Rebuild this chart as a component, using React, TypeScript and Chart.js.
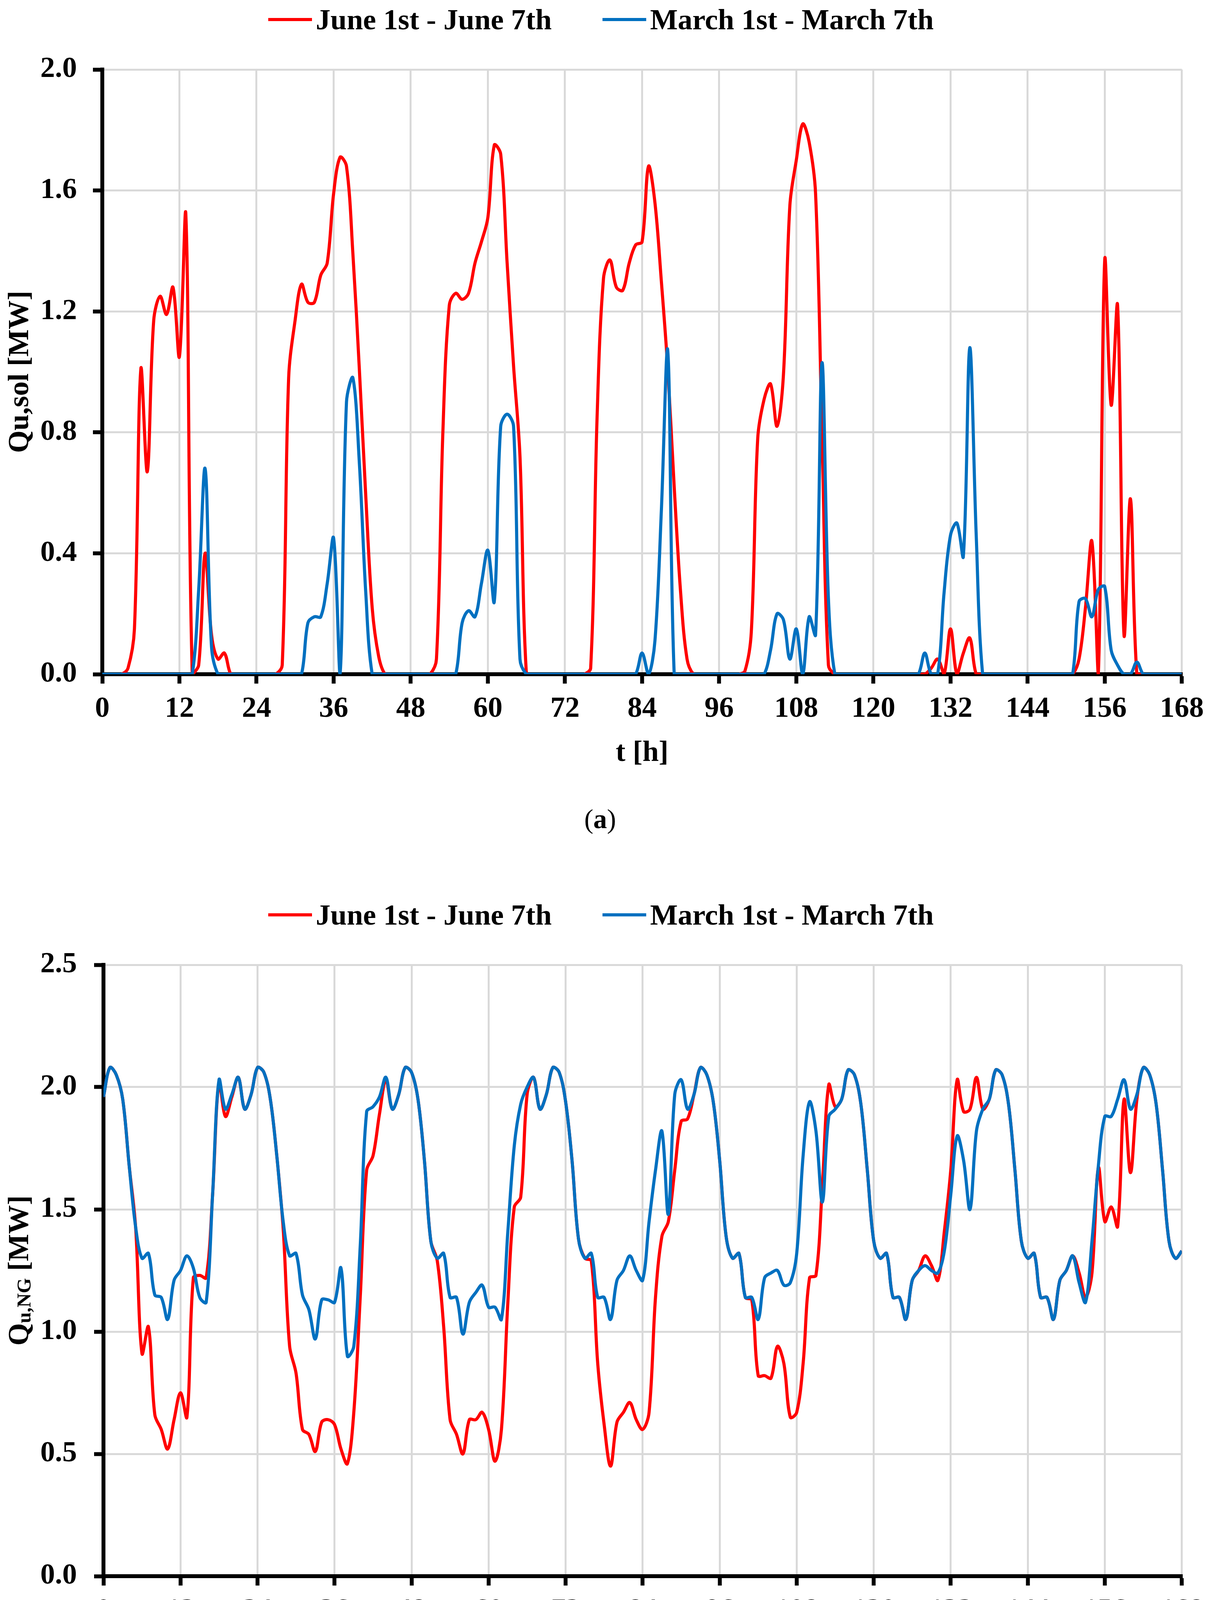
import { useEffect, useRef } from "react";
import { Chart, registerables } from "chart.js";

Chart.register(...registerables);

const SERIF = "'Liberation Serif', 'Times New Roman', serif";

// hourly values, t = 0 ... 168 h (12 values per row)
const juneSolar = [
  0, 0, 0, 0, 0.02, 0.15, 1.01, 0.67, 1.17, 1.25, 1.19, 1.28,
  1.05, 1.52, 0, 0.03, 0.4, 0.13, 0.05, 0.07, 0, 0, 0, 0,
  0, 0, 0, 0, 0.03, 0.98, 1.17, 1.29, 1.23, 1.23, 1.32, 1.36,
  1.59, 1.71, 1.68, 1.39, 1.01, 0.59, 0.22, 0.06, 0, 0, 0, 0,
  0, 0, 0, 0, 0.05, 0.8, 1.22, 1.26, 1.24, 1.26, 1.36, 1.43,
  1.51, 1.75, 1.72, 1.36, 1.02, 0.72, 0, 0, 0, 0, 0, 0,
  0, 0, 0, 0, 0.02, 0.85, 1.31, 1.37, 1.28, 1.27, 1.36, 1.42,
  1.43, 1.68, 1.56, 1.3, 1.01, 0.62, 0.27, 0.05, 0, 0, 0, 0,
  0, 0, 0, 0, 0.01, 0.14, 0.78, 0.91, 0.96, 0.82, 0.99, 1.55,
  1.7, 1.82, 1.76, 1.59, 0.8, 0.03, 0, 0, 0, 0, 0, 0,
  0, 0, 0, 0, 0, 0, 0, 0, 0, 0.02, 0.05, 0,
  0.15, 0, 0.07, 0.12, 0, 0, 0, 0, 0, 0, 0, 0,
  0, 0, 0, 0, 0, 0, 0, 0, 0.05, 0.22, 0.44, 0,
  1.37, 0.89, 1.22, 0.13, 0.58, 0, 0, 0, 0, 0, 0, 0,
  0,
];

const marchSolar = [
  0, 0, 0, 0, 0, 0, 0, 0, 0, 0, 0, 0,
  0, 0, 0, 0.28, 0.68, 0.09, 0, 0, 0, 0, 0, 0,
  0, 0, 0, 0, 0, 0, 0, 0, 0.17, 0.19, 0.19, 0.3,
  0.45, 0, 0.9, 0.98, 0.7, 0.27, 0, 0, 0, 0, 0, 0,
  0, 0, 0, 0, 0, 0, 0, 0, 0.17, 0.21, 0.19, 0.3,
  0.41, 0.24, 0.82, 0.86, 0.82, 0.05, 0, 0, 0, 0, 0, 0,
  0, 0, 0, 0, 0, 0, 0, 0, 0, 0, 0, 0,
  0.07, 0, 0.11, 0.54, 1.07, 0, 0, 0, 0, 0, 0, 0,
  0, 0, 0, 0, 0, 0, 0, 0, 0.08, 0.2, 0.18, 0.05,
  0.15, 0, 0.19, 0.13, 1.03, 0.25, 0, 0, 0, 0, 0, 0,
  0, 0, 0, 0, 0, 0, 0, 0, 0.07, 0, 0, 0.27,
  0.46, 0.5, 0.39, 1.08, 0.46, 0, 0, 0, 0, 0, 0, 0,
  0, 0, 0, 0, 0, 0, 0, 0, 0.24, 0.25, 0.19, 0.28,
  0.29, 0.08, 0.03, 0, 0, 0.04, 0, 0, 0, 0, 0, 0,
  0,
];

const juneGas = [
  1.96, 2.08, 2.05, 1.95, 1.68, 1.43, 0.91, 1.02, 0.66, 0.6, 0.52, 0.64,
  0.75, 0.65, 1.22, 1.23, 1.22, 1.56, 2.02, 1.88, 1.96, 2.04, 1.91, 1.97,
  2.08, 2.06, 1.95, 1.72, 1.42, 0.94, 0.83, 0.6, 0.58, 0.51, 0.63, 0.64,
  0.62, 0.52, 0.46, 0.67, 1.14, 1.66, 1.72, 1.89, 2.03, 1.91, 1.97, 2.08,
  2.06, 1.95, 1.7, 1.37, 1.29, 1.02, 0.64, 0.58, 0.5, 0.64, 0.64, 0.67,
  0.6, 0.47, 0.6, 1.12, 1.51, 1.55, 1.97, 2.04, 1.91, 1.97, 2.08, 2.06,
  1.94, 1.7, 1.38, 1.3, 1.29, 0.87, 0.62, 0.45, 0.63, 0.67, 0.71, 0.64,
  0.6, 0.67, 1.14, 1.39, 1.45, 1.66, 1.86, 1.87, 1.97, 2.08, 2.05, 1.94,
  1.7, 1.39, 1.3, 1.32, 1.14, 1.13, 0.82, 0.82, 0.81, 0.94, 0.87, 0.65,
  0.67, 0.87, 1.22, 1.23, 1.6, 2.01, 1.92, 1.95, 2.07, 2.05, 1.93, 1.66,
  1.37, 1.3, 1.32, 1.14, 1.14, 1.05, 1.21, 1.25, 1.31, 1.27, 1.21, 1.41,
  1.66, 2.03, 1.9, 1.91, 2.04, 1.91, 1.95, 2.07, 2.05, 1.93, 1.66, 1.37,
  1.3, 1.32, 1.14, 1.14, 1.05, 1.21, 1.25, 1.31, 1.24, 1.14, 1.24, 1.67,
  1.45, 1.51, 1.43, 1.95, 1.65, 1.95, 2.08, 2.05, 1.93, 1.66, 1.37, 1.3,
  1.33,
];

const marchGas = [
  1.96, 2.08, 2.05, 1.95, 1.68, 1.43, 1.3, 1.32, 1.15, 1.14, 1.05, 1.21,
  1.25, 1.31, 1.26, 1.14, 1.12, 1.56, 2.03, 1.91, 1.97, 2.04, 1.91, 1.97,
  2.08, 2.06, 1.95, 1.72, 1.45, 1.31, 1.32, 1.15, 1.09, 0.97, 1.13, 1.13,
  1.12, 1.26, 0.9, 0.94, 1.35, 1.9, 1.92, 1.96, 2.04, 1.91, 1.97, 2.08,
  2.06, 1.95, 1.7, 1.37, 1.3, 1.32, 1.14, 1.14, 0.99, 1.12, 1.16, 1.19,
  1.1, 1.1, 1.05, 1.41, 1.76, 1.93, 2.0, 2.04, 1.91, 1.97, 2.08, 2.06,
  1.94, 1.7, 1.38, 1.3, 1.32, 1.14, 1.14, 1.05, 1.21, 1.25, 1.31, 1.25,
  1.21, 1.45, 1.66, 1.82, 1.48, 1.97, 2.03, 1.91, 1.97, 2.08, 2.05, 1.94,
  1.7, 1.39, 1.3, 1.32, 1.14, 1.14, 1.05, 1.22, 1.24, 1.25, 1.19, 1.2,
  1.32, 1.72, 1.94, 1.82, 1.53, 1.88, 1.91, 1.95, 2.07, 2.05, 1.93, 1.66,
  1.37, 1.3, 1.32, 1.14, 1.14, 1.05, 1.21, 1.25, 1.27, 1.25, 1.24, 1.33,
  1.56, 1.8, 1.7, 1.5, 1.82, 1.91, 1.95, 2.07, 2.05, 1.93, 1.66, 1.37,
  1.3, 1.32, 1.14, 1.14, 1.05, 1.21, 1.25, 1.31, 1.2, 1.12, 1.37, 1.68,
  1.88, 1.88, 1.95, 2.03, 1.91, 1.97, 2.08, 2.05, 1.93, 1.66, 1.37, 1.3,
  1.33,
];

const hourTicks = [0, 12, 24, 36, 48, 60, 72, 84, 96, 108, 120, 132, 144, 156, 168];
const solarTicks = [0, 0.4, 0.8, 1.2, 1.6, 2.0];
const gasTicks = [0, 0.5, 1.0, 1.5, 2.0, 2.5];

const seriesNames = ["June 1st - June 7th", "March 1st - March 7th"];
const seriesColors = ["#ff0000", "#0070c0"];

const PAGE_W = 3104;
const CANVAS_H = 2000;
const TICK_LEN = 24;
const FONT_SIZE = 75;

type TitlePart = { text: string; size: number; shift?: number };

// rotated y-axis title that can carry a subscript
function makeYTitlePlugin(parts: TitlePart[], baselineX: number) {
  return {
    id: "yTitleParts",
    afterDraw(chart: Chart) {
      const { ctx, chartArea } = chart;
      const font = (size: number) => `bold ${size}px ${SERIF}`;
      const widths = parts.map((p) => {
        ctx.font = font(p.size);
        return ctx.measureText(p.text).width;
      });
      const total = widths.reduce((a, b) => a + b, 0);
      ctx.save();
      ctx.translate(baselineX, (chartArea.top + chartArea.bottom) / 2);
      ctx.rotate(-Math.PI / 2);
      ctx.fillStyle = "#000";
      ctx.textAlign = "left";
      ctx.textBaseline = "alphabetic";
      let cursor = -total / 2;
      parts.forEach((p, i) => {
        ctx.font = font(p.size);
        ctx.fillText(p.text, cursor, p.shift ?? 0);
        cursor += widths[i];
      });
      ctx.restore();
    },
  };
}

interface PanelProps {
  top: number;
  plotTop: number;
  plotBottom: number;
  plotLeft: number;
  plotRight: number;
  june: number[];
  march: number[];
  yTicks: number[];
  yMax: number;
  yTitle: TitlePart[];
  caption: string;
}

function Panel({ top, plotTop, plotBottom, plotLeft, plotRight, june, march, yTicks, yMax, yTitle, caption }: PanelProps) {
  const canvasRef = useRef<HTMLCanvasElement>(null);
  const chartRef = useRef<Chart | null>(null);

  useEffect(() => {
    if (!canvasRef.current) return;
    if (chartRef.current) {
      chartRef.current.destroy();
    }
    const ctx = canvasRef.current.getContext("2d");
    if (!ctx) return;

    const tickFont = { family: SERIF, size: FONT_SIZE, weight: "bold" as const };
    const grid = { color: "#d9d9d9", lineWidth: 5, tickColor: "#000", tickWidth: 10, tickLength: TICK_LEN };
    const border = { display: true, color: "#000", width: 10 };
    const lineHeight = FONT_SIZE * 1.2;

    const series = [june, march];

    const chartConfig: any = {
      type: "line",
      data: {
        datasets: series.map((values, i) => ({
          label: seriesNames[i],
          data: values.map((y, h) => ({ x: h, y })),
          borderColor: seriesColors[i],
          backgroundColor: seriesColors[i],
          borderWidth: 8,
          pointRadius: 0,
          tension: 0.35,
          fill: false,
          order: i === 0 ? 1 : 0,
        })),
      },
      options: {
        responsive: true,
        maintainAspectRatio: false,
        animation: false,
        events: [],
        layout: { padding: { top: plotTop, left: 0, right: PAGE_W - plotRight, bottom: 0 } },
        plugins: {
          legend: { display: false },
          tooltip: { enabled: false },
        },
        scales: {
          x: {
            type: "linear",
            min: 0,
            max: 168,
            afterBuildTicks: (scale: any) => {
              scale.ticks = hourTicks.map((value) => ({ value }));
            },
            afterFit: (scale: any) => {
              scale.height = CANVAS_H - plotBottom;
            },
            ticks: {
              autoSkip: false,
              maxRotation: 0,
              color: "#000",
              font: tickFont,
              padding: 90 - TICK_LEN - lineHeight / 2,
              callback: (v: number) => String(v),
            },
            grid,
            border,
            title: {
              display: true,
              text: "t [h]",
              color: "#000",
              font: tickFont,
              padding: { top: 0, bottom: CANVAS_H - lineHeight / 2 - (plotBottom + 203) },
            },
          },
          y: {
            type: "linear",
            min: 0,
            max: yMax,
            afterBuildTicks: (scale: any) => {
              scale.ticks = yTicks.map((value) => ({ value }));
            },
            afterFit: (scale: any) => {
              scale.width = plotLeft;
            },
            ticks: {
              color: "#000",
              font: tickFont,
              padding: plotLeft - TICK_LEN - 197,
              callback: (v: number) => Number(v).toFixed(1),
            },
            grid,
            border,
            title: { display: false },
          },
        },
      },
      plugins: [makeYTitlePlugin(yTitle, 72)],
    };

    chartRef.current = new Chart(ctx, chartConfig);

    return () => {
      if (chartRef.current) {
        chartRef.current.destroy();
        chartRef.current = null;
      }
    };
  }, [plotTop, plotBottom, plotLeft, plotRight, june, march, yTicks, yMax, yTitle]);

  return (
    <>
      <div
        style={{
          position: "absolute",
          left: 0,
          top: top + 50 - 45,
          width: PAGE_W,
          height: 90,
          boxSizing: "border-box",
          paddingRight: 26,
          display: "flex",
          justifyContent: "center",
          alignItems: "center",
          gap: 130,
          fontFamily: SERIF,
          fontWeight: "bold",
          fontSize: FONT_SIZE,
          color: "#000",
          whiteSpace: "nowrap",
        }}
      >
        {seriesNames.map((name, i) => (
          <div key={name} style={{ display: "flex", alignItems: "center" }}>
            <span style={{ display: "inline-block", width: 112, height: 8, background: seriesColors[i], marginRight: 10 }} />
            <span>{name}</span>
          </div>
        ))}
      </div>
      <div style={{ position: "absolute", left: 0, top, width: PAGE_W, height: CANVAS_H }}>
        <canvas ref={canvasRef} />
      </div>
      <div
        style={{
          position: "absolute",
          left: 0,
          top: top + plotBottom + 371 - 45,
          width: PAGE_W,
          height: 90,
          lineHeight: "90px",
          boxSizing: "border-box",
          paddingRight: 30,
          textAlign: "center",
          fontFamily: SERIF,
          fontSize: 70,
          color: "#000",
        }}
      >
        (<b>{caption}</b>)
      </div>
    </>
  );
}

const solarTitle: TitlePart[] = [{ text: "Qu,sol [MW]", size: 74 }];
const gasTitle: TitlePart[] = [
  { text: "Q", size: 74 },
  { text: "u,NG", size: 50, shift: 6 },
  { text: " [MW]", size: 74 },
];

export default function App() {
  return (
    <div style={{ position: "absolute", left: 0, top: 0, width: PAGE_W, height: 4457, background: "#fff", overflow: "hidden" }}>
      <Panel
        top={0}
        plotTop={178}
        plotBottom={1726}
        plotLeft={262}
        plotRight={3028}
        june={juneSolar}
        march={marchSolar}
        yTicks={solarTicks}
        yMax={2.0}
        yTitle={solarTitle}
        caption="a"
      />
      <Panel
        top={2292}
        plotTop={178}
        plotBottom={1743}
        plotLeft={265}
        plotRight={3031}
        june={juneGas}
        march={marchGas}
        yTicks={gasTicks}
        yMax={2.5}
        yTitle={gasTitle}
        caption="b"
      />
    </div>
  );
}
